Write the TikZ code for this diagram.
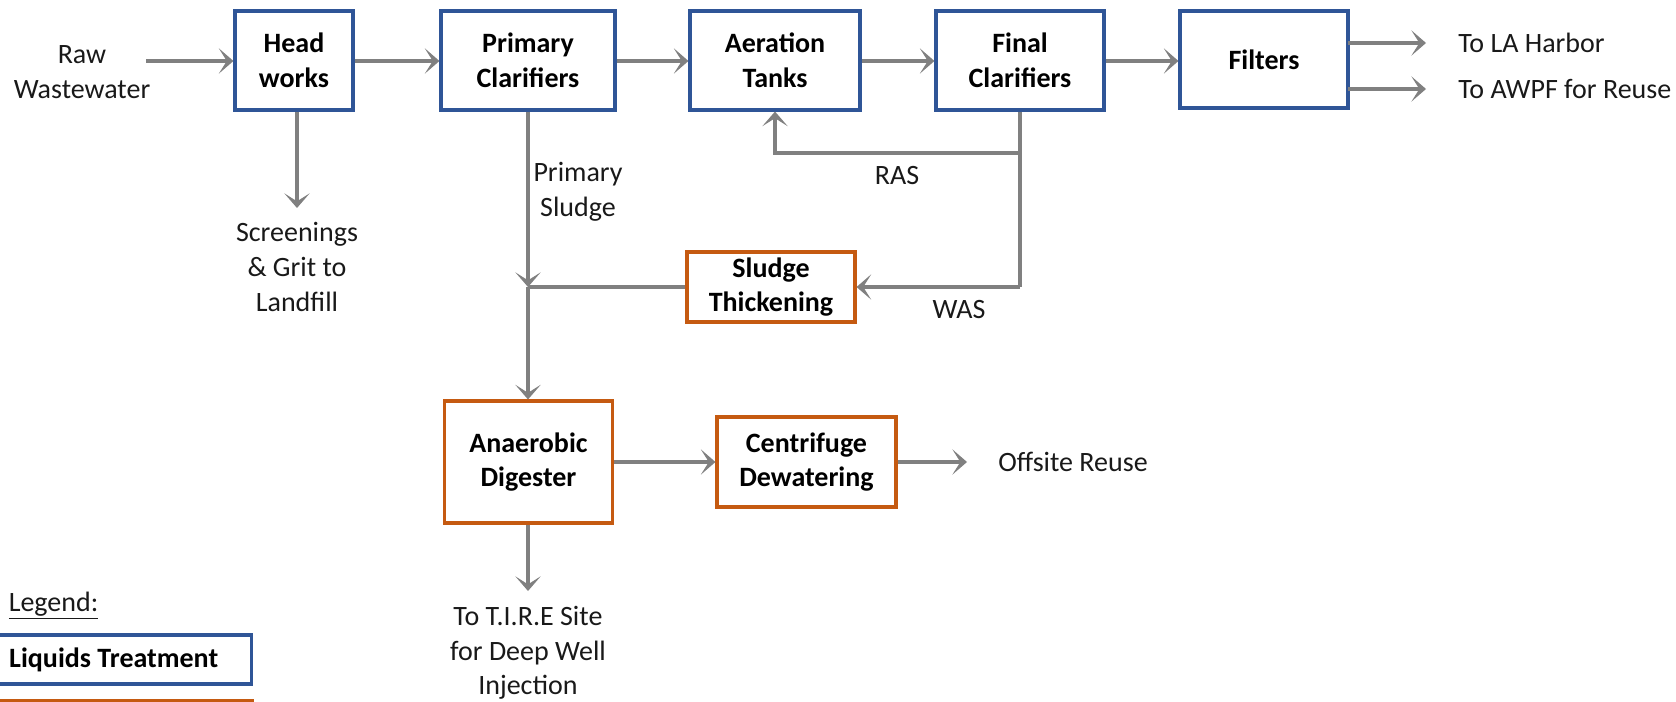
\documentclass[tikz,border=0pt]{standalone}
\usepackage{fontspec}
\setmainfont{Carlito}
\usetikzlibrary{arrows.meta}
\definecolor{lblue}{RGB}{47,85,151}
\definecolor{lorange}{RGB}{197,90,17}
\definecolor{lgray}{RGB}{128,128,128}
\begin{document}
\begin{tikzpicture}[x=0.75pt,y=-0.75pt,
  font=\fontsize{21}{26}\selectfont,
  sz/.style 2 args={minimum width=#1*0.75pt, minimum height=#2*0.75pt},
  box/.style={draw, line width=2.3pt, fill=white, align=center, inner sep=0pt,
    font=\fontsize{21}{26}\selectfont\bfseries},
  liq/.style={box, draw=lblue},
  sol/.style={box, draw=lorange},
  flow/.style={draw=lgray, line width=2.6pt, -{Stealth[length=11pt,width=19pt,inset=6pt]}},
  pipe/.style={draw=lgray, line width=2.6pt},
  lbl/.style={align=center, inner sep=0pt, text=black!90}
]
\useasboundingbox (0,0) rectangle (1676,702);

% process boxes
\node[liq, sz={118}{99}] (hw) at (294,60.5) {Head\\works};
\node[liq, sz={174}{99}] (pc) at (528,60.5) {Primary\\Clarifiers};
\node[liq, sz={170}{99}] (at) at (775,60.5) {Aeration\\Tanks};
\node[liq, sz={168}{99}] (fc) at (1020,60.5) {Final\\Clarifiers};
\node[liq, sz={168}{97}] (fi) at (1264,59.5) {Filters};
\node[sol, sz={168}{70}] (st) at (771,287) {Sludge\\Thickening};
\node[sol, sz={168}{122}] (ad) at (528.5,462) {Anaerobic\\Digester};
\node[sol, sz={179}{90}] (cd) at (806.5,462) {Centrifuge\\Dewatering};

% labels
\node[lbl] (raw) at (82,72) {Raw\\Wastewater};
\node[lbl] (scr) at (297,267) {Screenings\\\& Grit to\\Landfill};
\node[lbl] (ps) at (578,192) {Primary\\Sludge};
\node[lbl] (ras) at (897,176) {RAS};
\node[lbl] (was) at (959,310) {WAS};
\node[lbl] (tire) at (528,653) {To T.I.R.E Site\\for Deep Well\\Injection};
\node[lbl, anchor=west] (off) at (998,462) {Offsite Reuse};
\node[lbl, anchor=west] (la) at (1458,43) {To LA Harbor};
\node[lbl, anchor=west] (awpf) at (1458,89) {To AWPF for Reuse};

% legend
\node[lbl, anchor=west] (leg) at (8.5,606) {\underline{Legend:}};
\node[liq, sz={253}{49}, anchor=west] (legl) at (-3,659.5) {\hspace*{1pt}Liquids Treatment\hspace*{18pt}};
\node[sol, sz={254}{49}, anchor=north west] (legs) at (-3,699) {};

% coordinates
\coordinate (rawend) at (146,61);
\coordinate (scrtip) at (297,208);
\coordinate (join) at (528,287);
\coordinate (fcdown) at (1020,287);
\coordinate (rasbr) at (1020,153);
\coordinate (offtip) at (967,462);
\coordinate (tiretip) at (528,591);
\coordinate (la0) at (1348,43);
\coordinate (la1) at (1426,43);
\coordinate (aw0) at (1348,89);
\coordinate (aw1) at (1426,89);

% liquid flow
\draw[flow] (rawend) -- (hw.west |- rawend);
\draw[flow] (hw.east |- rawend) -- (pc.west |- rawend);
\draw[flow] (pc.east |- rawend) -- (at.west |- rawend);
\draw[flow] (at.east |- rawend) -- (fc.west |- rawend);
\draw[flow] (fc.east |- rawend) -- (fi.west |- rawend);
\draw[flow] (la0) -- (la1);
\draw[flow] (aw0) -- (aw1);
\draw[flow] (hw.south -| scrtip) -- (scrtip);

% RAS / WAS
\draw[pipe] (fc.south -| rasbr) -- (fcdown);
\draw[flow] (rasbr) -| (at.south);
\draw[flow] (fcdown) -- (st.east |- fcdown);

% solids
\draw[flow] (pc.south -| join) -- (join);
\draw[pipe] (st.west |- join) -- (join);
\draw[flow] (join) -- (ad.north -| join);
\draw[flow] (ad.east) -- (cd.west);
\draw[flow] (cd.east) -- (offtip);
\draw[flow] (ad.south -| tiretip) -- (tiretip);
\end{tikzpicture}
\end{document}
